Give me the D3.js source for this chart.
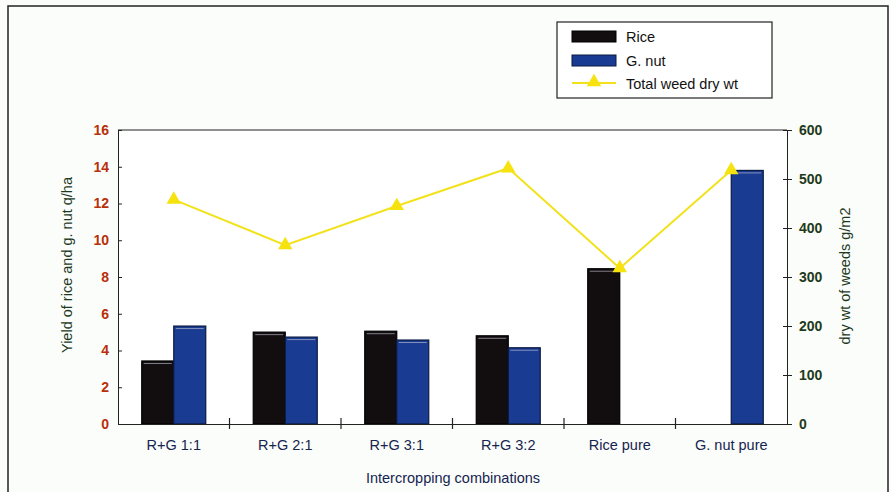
<!DOCTYPE html>
<html><head><meta charset="utf-8">
<script src="https://cdn.jsdelivr.net/npm/d3@7"></script>
<style>body{margin:0;background:#fff}svg{display:block}text{font-family:"Liberation Sans",Arial,sans-serif}</style>
</head><body>
<svg id="c" width="891" height="492"></svg>
<script>
const categories = ["R+G 1:1","R+G 2:1","R+G 3:1","R+G 3:2","Rice pure","G. nut pure"];
const rice = [3.43, 5.0, 5.05, 4.8, 8.45, 0];
const gnut = [5.33, 4.73, 4.57, 4.15, 0, 13.8];
const weed = [458, 365, 445, 522, 318, 518];
const leftTicks = [0,2,4,6,8,10,12,14,16];
const rightTicks = [0,100,200,300,400,500,600];

const svg = d3.select("#c");
svg.append("rect").attr("x",0).attr("y",0).attr("width",891).attr("height",492).attr("fill","#fbfdfb");
svg.append("path").attr("d","M8,492 V6 H888 V492").attr("fill","none").attr("stroke","#222").attr("stroke-width",1.5);

const L=118,R=787,T=130,B=424;
const x = d3.scaleBand().domain(categories).range([L,R]);
const yL = d3.scaleLinear().domain([0,16]).range([B,T]);
const yR = d3.scaleLinear().domain([0,600]).range([B,T]);
const bw = 32;

svg.append("rect").attr("x",L).attr("y",T).attr("width",R-L).attr("height",B-T).attr("fill","#fff");
svg.append("line").attr("x1",L).attr("x2",R).attr("y1",T).attr("y2",T).attr("stroke","#222").attr("stroke-width",1.2);

const g = svg.append("g");
categories.forEach((c,i)=>{
  const cx = x(c)+x.bandwidth()/2;
  [[rice[i],cx-bw,"#120d0e","#000"],[gnut[i],cx,"#1a3b92","#0a1a40"]].forEach(([v,x0,fill,st])=>{
    if(v<=0) return;
    g.append("rect").attr("x",x0).attr("y",yL(v)).attr("width",bw).attr("height",B-yL(v))
      .attr("fill",fill).attr("stroke",st).attr("stroke-width",1.2);
    g.append("line").attr("x1",x0+2).attr("x2",x0+bw-2).attr("y1",yL(v)+2.5).attr("y2",yL(v)+2.5)
      .attr("stroke","#c8c8d8").attr("stroke-width",1).attr("opacity",0.6);
  });
});

// axes
const ax = svg.append("g").attr("transform",`translate(${L},0)`).call(d3.axisLeft(yL).tickValues(leftTicks).tickSize(4).tickSizeOuter(0));
ax.selectAll(".tick line").attr("x2",4);
ax.selectAll("text").attr("fill","#b8300a").attr("font-size",14).attr("font-weight","bold").attr("x",-9);
ax.select(".domain").attr("stroke","#222");
ax.selectAll(".tick line").attr("stroke","#222");

const ar = svg.append("g").attr("transform",`translate(${R},0)`).call(d3.axisRight(yR).tickValues(rightTicks).tickSize(4).tickSizeOuter(0));
ar.selectAll(".tick line").attr("x2",5).attr("x1",-4).attr("stroke","#222");
ar.selectAll("text").attr("fill","#1f3a1a").attr("font-size",14).attr("font-weight","bold").attr("x",12);
ar.select(".domain").attr("stroke","#222");

const axb = svg.append("g").attr("transform",`translate(0,${B})`).call(d3.axisBottom(x).tickSize(0).tickSizeOuter(0));
axb.select(".domain").attr("stroke","#222").attr("stroke-width",1.2);
axb.selectAll("text").attr("fill","#16244f").attr("font-size",14.5).attr("dy","1.6em");
const sep = categories.map(c=>x(c)).slice(1);
svg.selectAll(".sep").data(sep).join("line").attr("x1",d=>d).attr("x2",d=>d).attr("y1",B-6).attr("y2",B+5).attr("stroke","#222").attr("stroke-width",1.2);

// line
const pts = categories.map((c,i)=>[x(c)+x.bandwidth()/2, yR(weed[i])]);
svg.append("path").attr("d",d3.line()(pts)).attr("fill","none").attr("stroke","#f2e21c").attr("stroke-width",2);
const tri = d3.symbol().type(d3.symbolTriangle).size(90);
svg.selectAll(".pt").data(pts).join("path").attr("transform",d=>`translate(${d[0]},${d[1]})`).attr("d",tri).attr("fill","#f5e20f");

// titles
svg.append("text").attr("transform",`translate(72,265) rotate(-90)`).attr("text-anchor","middle").attr("font-size",14.5).attr("fill","#1d3a1d").text("Yield of rice and g. nut q/ha");
svg.append("text").attr("transform",`translate(850,276) rotate(-90)`).attr("text-anchor","middle").attr("font-size",14.5).attr("fill","#1d3a1d").text("dry wt of weeds g/m2");
svg.append("text").attr("x",453).attr("y",483).attr("text-anchor","middle").attr("font-size",14.5).attr("fill","#16244f").text("Intercropping combinations");

// legend
const lg = svg.append("g");
lg.append("rect").attr("x",557).attr("y",22).attr("width",215).attr("height",76).attr("fill","#fff").attr("stroke","#222").attr("stroke-width",1.2);
lg.append("rect").attr("x",572).attr("y",31).attr("width",44).attr("height",11).attr("fill","#120d0e").attr("stroke","#000");
lg.append("rect").attr("x",572).attr("y",55).attr("width",44).attr("height",11).attr("fill","#1a3b92").attr("stroke","#0a1a40");
lg.append("line").attr("x1",572).attr("x2",616).attr("y1",83).attr("y2",83).attr("stroke","#f2e21c").attr("stroke-width",2);
lg.append("path").attr("transform","translate(594,82)").attr("d",tri).attr("fill","#f5e20f");
[["Rice",42],["G. nut",66],["Total weed dry wt",89]].forEach(([t,yy])=>{
  lg.append("text").attr("x",626).attr("y",yy).attr("font-size",14.5).attr("fill","#111").text(t);
});
</script>
</body></html>
